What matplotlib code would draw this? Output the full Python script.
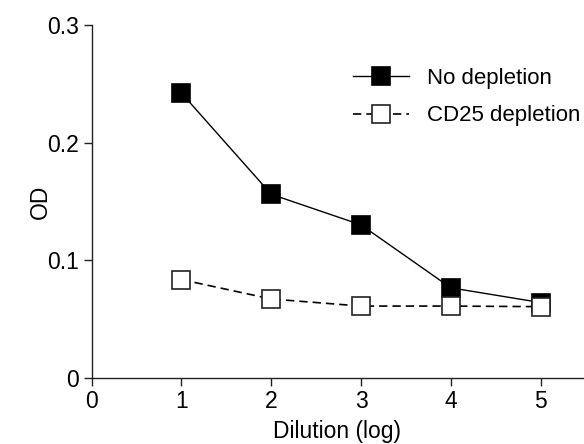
import matplotlib
matplotlib.use("Agg")
import matplotlib.pyplot as plt

plt.rcParams['font.family'] = ['Liberation Sans', 'DejaVu Sans']

dilution = [1, 2, 3, 4, 5]
no_depletion = [0.242, 0.156, 0.130, 0.0765, 0.064]
cd25_depletion = [0.0835, 0.067, 0.061, 0.061, 0.0605]

fig = plt.figure(figsize=(5.84, 4.44), dpi=100)
ax = fig.add_axes([0.157, 0.149, 0.841, 0.795])

ax.plot(dilution, no_depletion, '-', color='black', lw=1,
        marker='s', ms=13, mfc='black', mec='black', mew=1.2,
        label='No depletion')
ax.plot(dilution, cd25_depletion, '--', color='black', lw=1.2, dashes=(5, 3),
        marker='s', ms=13, mfc='white', mec='#222222', mew=1.2,
        label='CD25 depletion')

ax.set_xlim(0, 5.47)
ax.set_ylim(0, 0.3)
ax.set_xticks([0, 1, 2, 3, 4, 5])
ax.set_yticks([0, 0.1, 0.2, 0.3])
ax.set_yticklabels(['0', '0.1', '0.2', '0.3'])

for s in ['top', 'right']:
    ax.spines[s].set_visible(False)
for s in ['left', 'bottom']:
    ax.spines[s].set_linewidth(1)
    ax.spines[s].set_color('#222222')
ax.tick_params(direction='out', length=6, width=1, labelsize=16.5,
               color='#222222', pad=3)

ax.set_xlabel('Dilution (log)', fontsize=16.5, labelpad=5)
ax.set_ylabel('OD', fontsize=16.5, labelpad=-3)

ax.legend(loc='upper left', bbox_to_anchor=(0.514, 0.903), frameon=False,
          fontsize=16, handlelength=2.5, handletextpad=0.85, labelspacing=0.74,
          borderaxespad=0)

fig.savefig('out.png', dpi=100)
